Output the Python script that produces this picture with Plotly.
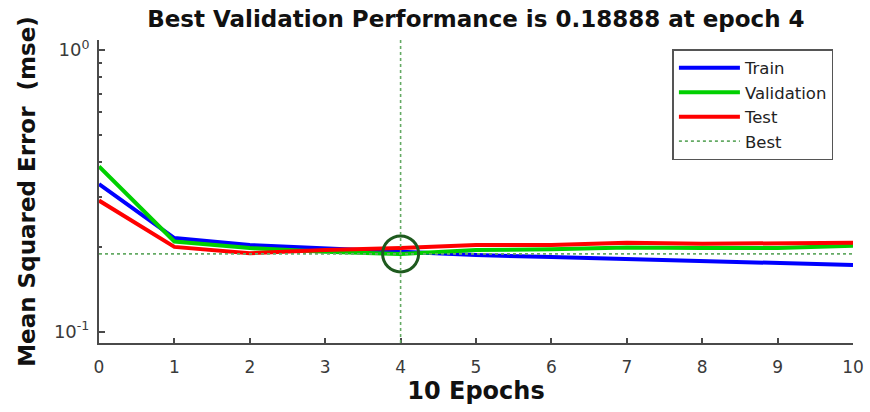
import plotly.graph_objects as go

# ---- data ----
epochs = [0, 1, 2, 3, 4, 5, 6, 7, 8, 9, 10]
train = [0.334, 0.215, 0.203, 0.198, 0.192, 0.187, 0.184, 0.181, 0.178, 0.1756, 0.1725]
validation = [0.386, 0.209, 0.198, 0.192, 0.18888, 0.195, 0.196, 0.199, 0.198, 0.198, 0.202]
test = [0.292, 0.200, 0.190, 0.195, 0.198, 0.203, 0.203, 0.207, 0.205, 0.206, 0.207]
best_epoch = 4
best_perf = 0.18888
x_ticks = [0, 1, 2, 3, 4, 5, 6, 7, 8, 9, 10]
y_ticks = [0.1, 1.0]
y_tick_text = ["10<sup>-1</sup>", "10<sup>0</sup>"]
y_minor = [0.2, 0.3, 0.4, 0.5, 0.6, 0.7, 0.8, 0.9]

BOLD = "DejaVu Sans"
AX = "#4a4a4a"
BESTC = "rgb(100,170,100)"

fig = go.Figure()
fig.add_trace(go.Scatter(x=epochs, y=train, mode="lines", name="Train",
                         line=dict(color="#0000ff", width=4)))
fig.add_trace(go.Scatter(x=epochs, y=validation, mode="lines", name="Validation",
                         line=dict(color="#00d000", width=4)))
fig.add_trace(go.Scatter(x=epochs, y=test, mode="lines", name="Test",
                         line=dict(color="#ff0000", width=4)))
fig.add_trace(go.Scatter(x=[min(epochs), max(epochs)], y=[best_perf, best_perf],
                         mode="lines", name="Best",
                         line=dict(color=BESTC, width=1.6, dash="dot")))
fig.add_vline(x=best_epoch, line=dict(color=BESTC, width=1.6, dash="dot"))
fig.add_trace(go.Scatter(x=[best_epoch], y=[best_perf], mode="markers", showlegend=False,
                         marker=dict(symbol="circle-open", size=36,
                                     line=dict(color="#1e5a1e", width=3), color="#1e5a1e")))

fig.update_layout(
    width=870, height=412,
    margin=dict(l=99, r=17, t=40, b=69, autoexpand=False),
    paper_bgcolor="white", plot_bgcolor="white",
    font=dict(family="DejaVu Sans", color="#333333"),
    title=dict(text="<b>Best Validation Performance is 0.18888 at epoch 4</b>",
               font=dict(family=BOLD, size=23, color="#111111"),
               x=0.547, xanchor="center", y=0.955, yanchor="middle"),
    showlegend=True,
    legend=dict(x=0.7605, y=0.970, xanchor="left", yanchor="top",
                bgcolor="white", bordercolor="#555555", borderwidth=1.5,
                font=dict(size=16.5, color="#222222"), itemwidth=61,
                tracegroupgap=0),
    xaxis=dict(range=[0, 10], tickvals=x_ticks, ticks="inside", ticklen=5,
               tickwidth=1.5, tickcolor=AX, showline=True, linecolor=AX, linewidth=2,
               showgrid=False, zeroline=False, mirror=False, automargin=False,
               tickfont=dict(size=17, color="#3a3a3a"), ticklabelstandoff=8,
               title=dict(text="<b>10 Epochs</b>", font=dict(family=BOLD, size=24, color="#111111"),
                          standoff=4)),
    yaxis=dict(type="log", range=[-1.04, 0.035], tickvals=y_ticks, ticktext=y_tick_text,
               ticks="inside", ticklen=6, tickwidth=1.5, tickcolor=AX, automargin=False,
               showline=True, linecolor=AX, linewidth=2, showgrid=False, zeroline=False,
               tickfont=dict(size=18, color="#3a3a3a"), ticklabelstandoff=4,
               minor=dict(tickvals=y_minor, ticks="inside", ticklen=3, tickcolor=AX, showgrid=False),
               title=dict(text="<b>Mean Squared Error  (mse)</b>",
                          font=dict(family=BOLD, size=23, color="#111111"), standoff=12)),
)

fig.write_html("out.html", config={"displayModeBar": False},
               post_script="document.body.style.margin='0';")
